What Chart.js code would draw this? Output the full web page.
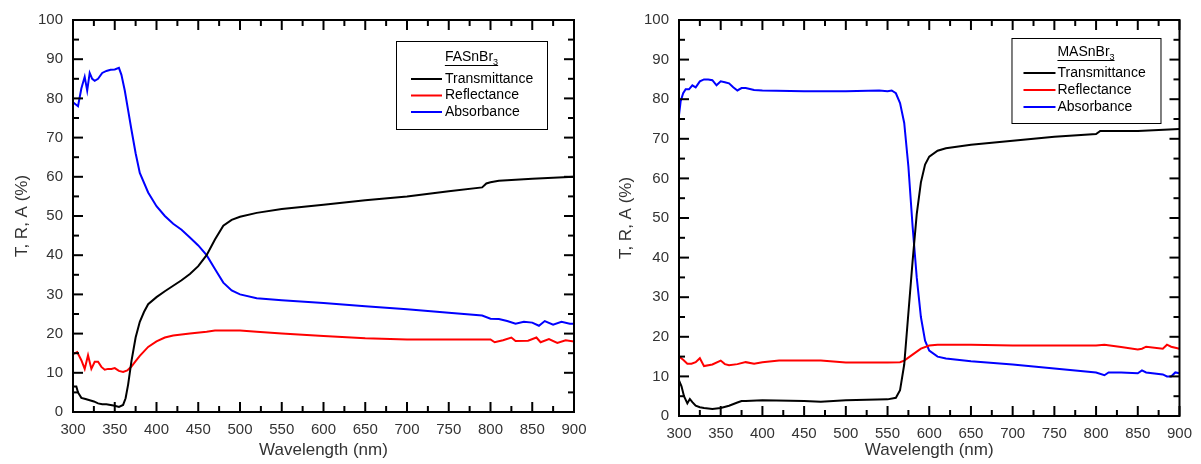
<!DOCTYPE html>
<html>
<head>
<meta charset="utf-8">
<script src="https://cdn.jsdelivr.net/npm/chart.js@4"></script>
<style>
  html, body { margin:0; padding:0; background:#fff; }
  .wrap { position:absolute; top:0; height:464px; }
  #w1 { left:0;     width:600px; }
  #w2 { left:600px; width:601px; }
</style>
</head>
<body>
<div class="wrap" id="w1"><canvas id="c1"></canvas></div>
<div class="wrap" id="w2"><canvas id="c2"></canvas></div>
<script>
// ── Data ─────────────────────────────────────────────────────────────────────
const X_TICKS = [300,350,400,450,500,550,600,650,700,750,800,850,900];
const Y_TICKS = [0,10,20,30,40,50,60,70,80,90,100];
const SERIES_LABELS = ["Transmittance","Reflectance","Absorbance"];

// FASnBr3
const FA_T_NM = [300,304,306,310,315,320,325,330,335,340,345,350,355,360,363,366,370,375,380,385,390,400,410,420,430,440,450,460,470,480,490,500,520,550,600,650,700,750,790,795,800,810,850,900];
const FA_T    = [6.5,6.5,5,3.6,3.3,3,2.7,2.2,2,2,1.8,1.6,1.3,1.8,3.5,7,13,19,23,25.5,27.5,29.3,30.8,32.2,33.6,35.2,37.2,40,44,47.5,49,49.8,50.8,51.8,52.9,54,55,56.3,57.3,58.3,58.6,59,59.5,60];
const FA_R_NM = [300,305,310,314,318,322,326,330,334,338,342,346,350,355,360,365,370,375,380,390,400,410,420,440,460,470,500,520,550,600,650,700,750,800,805,815,825,830,845,855,860,870,880,890,900];
const FA_R    = [14.8,15.3,13.2,11,14.5,11,12.8,12.8,11.5,10.8,11,11,11.2,10.5,10.2,10.6,11.6,13,14.3,16.6,18,19,19.5,20,20.5,20.8,20.8,20.5,20,19.4,18.8,18.5,18.5,18.5,17.8,18.3,19,18.1,18.2,19,17.8,18.6,17.6,18.3,18];
const FA_A_NM = [300,303,306,310,314,317,320,323,326,330,335,340,345,350,355,358,362,366,370,375,380,390,400,410,420,430,440,450,460,470,480,490,500,520,550,600,650,700,750,790,800,810,820,830,840,850,858,865,875,885,895,900];
const FA_A    = [79,78.5,78,82.5,85.5,82,86.5,85,84.5,85,86.5,87,87.3,87.4,87.8,86,82,77,72,66,61,56,52.5,50,48,46.5,44.5,42.5,40,36.5,33,31,30,29,28.5,27.8,27,26.2,25.3,24.6,23.8,23.7,23.2,22.5,23,22.8,22,23.2,22.3,23,22.5,22.5];

// MASnBr3
const MA_T_NM = [300,303,306,310,313,316,320,325,330,340,350,360,370,375,380,400,450,470,500,550,560,565,570,575,580,585,590,595,600,610,620,650,700,750,800,805,850,900];
const MA_T    = [9,7.5,5,3.2,4.3,3.5,2.6,2.2,2,1.8,2,2.6,3.4,3.8,3.8,4,3.8,3.6,4,4.2,4.6,6.5,13,26,39,51,59,63.5,65.5,67,67.6,68.5,69.5,70.5,71.2,72,72,72.5];
const MA_R_NM = [300,305,310,315,320,325,330,340,350,355,360,370,380,390,400,420,450,470,500,550,565,570,580,590,600,610,650,700,750,800,810,830,850,855,860,880,885,890,900];
const MA_R    = [15,14.2,13.2,13.2,13.6,14.6,12.6,13,14,13.1,12.8,13.1,13.6,13.2,13.6,14,14,14,13.5,13.5,13.6,14,15.5,17,17.8,18,18,17.8,17.8,17.8,18,17.4,16.8,17,17.5,17,18,17.5,17];
const MA_A_NM = [300,302,305,308,312,316,320,325,330,335,340,345,350,355,360,365,370,375,380,390,400,450,500,540,550,555,560,565,570,575,580,585,590,595,600,610,620,650,700,750,800,810,815,830,850,855,860,880,885,890,895,900];
const MA_A    = [76,79.5,81.5,82.5,82.5,83.5,83,84.5,85,85,84.8,83.5,84.5,84.3,84,83,82.2,82.8,82.8,82.3,82.2,82,82,82.2,82,82.2,81.5,79,74,63,48,35,25,19,16.5,15,14.5,13.8,13,12,11,10.3,11,11,10.8,11.5,11,10.5,10,10,11,10.8];

// ── Helpers ──────────────────────────────────────────────────────────────────
const FONT = "'Liberation Sans', Arial, sans-serif";
const COLORS = ["#000000","#ff0000","#0000ff"];

function pts(nm, vals) { return nm.map((x, i) => ({ x, y: vals[i] })); }

function line(ctx, x0, y0, x1, y1) {
  ctx.beginPath(); ctx.moveTo(x0, y0); ctx.lineTo(x1, y1); ctx.stroke();
}

// frame with inward major/minor ticks on all four sides
const framePlugin = {
  id: "frame",
  afterDatasetsDraw(chart) {
    const { ctx, chartArea: a, scales: { x, y } } = chart;
    ctx.save();
    ctx.strokeStyle = "#000";
    ctx.lineWidth = 2;
    ctx.strokeRect(a.left, a.top, a.right - a.left, a.bottom - a.top);
    for (let i = 0; i < X_TICKS.length; i++) {
      const px = x.getPixelForValue(X_TICKS[i]);
      line(ctx, px, a.bottom, px, a.bottom - 10);
      line(ctx, px, a.top, px, a.top + 10);
      if (i < X_TICKS.length - 1) {
        const mx = x.getPixelForValue((X_TICKS[i] + X_TICKS[i+1]) / 2);
        line(ctx, mx, a.bottom, mx, a.bottom - 6);
        line(ctx, mx, a.top, mx, a.top + 6);
      }
    }
    for (let i = 0; i < Y_TICKS.length; i++) {
      const py = y.getPixelForValue(Y_TICKS[i]);
      line(ctx, a.left, py, a.left + 10, py);
      line(ctx, a.right, py, a.right - 10, py);
      if (i < Y_TICKS.length - 1) {
        const my = y.getPixelForValue((Y_TICKS[i] + Y_TICKS[i+1]) / 2);
        line(ctx, a.left, my, a.left + 6, my);
        line(ctx, a.right, my, a.right - 6, my);
      }
    }
    ctx.restore();
  }
};

// boxed legend with underlined sample name (subscript 3)
const boxLegend = {
  id: "boxLegend",
  afterDraw(chart, args, o) {
    const { ctx, chartArea: a } = chart;
    const bx = a.right - o.fromRight, by = a.top + o.fromTop;
    ctx.save();
    ctx.fillStyle = "#fff";
    ctx.fillRect(bx, by, o.w, o.h);
    ctx.strokeStyle = "#000"; ctx.lineWidth = 1;
    ctx.strokeRect(bx + 0.5, by + 0.5, o.w, o.h);

    // title
    ctx.font = "14px " + FONT;
    ctx.fillStyle = "#000";
    ctx.textBaseline = "middle";
    const main = o.name, sub = "3";
    const wMain = ctx.measureText(main).width;
    ctx.font = "9px " + FONT;
    const wSub = ctx.measureText(sub).width;
    const tx = bx + o.w / 2 - (wMain + wSub) / 2, ty = by + o.titleY;
    ctx.font = "14px " + FONT;
    ctx.textAlign = "left";
    ctx.fillText(main, tx, ty);
    ctx.font = "9px " + FONT;
    ctx.fillText(sub, tx + wMain, ty + 6);
    ctx.lineWidth = 1;
    line(ctx, tx, ty + 8.5, tx + wMain + wSub, ty + 8.5);

    // rows
    ctx.font = "14px " + FONT;
    chart.data.datasets.forEach((ds, i) => {
      const ry = by + o.rowY + i * o.rowGap;
      ctx.strokeStyle = ds.borderColor; ctx.lineWidth = 2;
      line(ctx, bx + o.lineX0, ry, bx + o.lineX1, ry);
      ctx.fillStyle = "#000";
      ctx.fillText(ds.label, bx + o.textX, ry);
    });
    ctx.restore();
  }
};

function makeChart(id, series, opts) {
  return new Chart(document.getElementById(id), {
    type: "line",
    data: {
      datasets: series.map((s, i) => ({
        label: SERIES_LABELS[i], data: s,
        borderColor: COLORS[i], backgroundColor: COLORS[i],
        borderWidth: 2, pointRadius: 0, tension: 0, fill: false
      }))
    },
    options: {
      responsive: true, maintainAspectRatio: false, animation: false,
      layout: { padding: opts.padding },
      plugins: {
        legend: { display: false }, tooltip: { enabled: false },
        boxLegend: opts.legend
      },
      scales: {
        x: {
          type: "linear", min: 300, max: 900,
          afterBuildTicks: s => { s.ticks = X_TICKS.map(v => ({ value: v })); },
          afterFit: s => { s.height = opts.xH; },
          grid: { display: false, drawTicks: false }, border: { display: false },
          ticks: { padding: 9, color: "#333", font: { size: 15, family: FONT } },
          title: { display: true, text: "Wavelength (nm)", color: "#333", padding: 3, font: { size: 17, family: FONT } }
        },
        y: {
          min: 0, max: 100,
          afterBuildTicks: s => { s.ticks = Y_TICKS.map(v => ({ value: v })); },
          afterFit: s => { s.width = opts.yW; },
          grid: { display: false, drawTicks: false }, border: { display: false },
          ticks: { padding: 10, color: "#333", font: { size: 15, family: FONT } },
          title: { display: true, text: "T, R, A (%)", color: "#333", padding: 4, font: { size: 17, family: FONT } }
        }
      }
    },
    plugins: [framePlugin, boxLegend]
  });
}

makeChart("c1", [pts(FA_T_NM, FA_T), pts(FA_R_NM, FA_R), pts(FA_A_NM, FA_A)], {
  padding: { left: 8, top: 20, right: 26, bottom: 0 }, yW: 65, xH: 52,
  legend: { name: "FASnBr", fromRight: 178, fromTop: 21, w: 151, h: 88,
            titleY: 16, rowY: 38, rowGap: 16.5, lineX0: 15, lineX1: 46, textX: 49 }
});
makeChart("c2", [pts(MA_T_NM, MA_T), pts(MA_R_NM, MA_R), pts(MA_A_NM, MA_A)], {
  padding: { left: 12, top: 20, right: 20, bottom: 0 }, yW: 67, xH: 48,
  legend: { name: "MASnBr", fromRight: 168, fromTop: 18, w: 149, h: 85,
            titleY: 14, rowY: 35, rowGap: 17, lineX0: 12, lineX1: 44, textX: 46 }
});
</script>
</body>
</html>
